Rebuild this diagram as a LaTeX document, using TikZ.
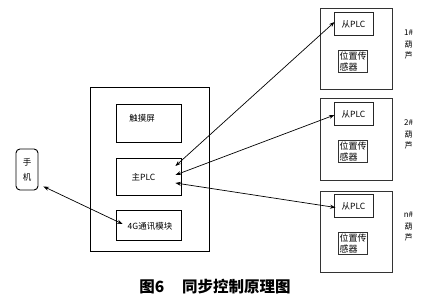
\documentclass[tikz,border=0pt]{standalone}
\usepackage{fontspec}
\setmainfont{Noto Sans CJK SC}
\usetikzlibrary{arrows.meta,calc}
\begin{document}
\begin{tikzpicture}[x=1pt,y=-1pt,
  box/.style={draw=black,line width=0.9pt,rectangle,inner sep=0pt,anchor=center,font=\fontsize{8.5}{10}\selectfont},
  grp/.style={draw=black!80,line width=1pt,rectangle,inner sep=0pt,anchor=center},
  sensor/.style={draw=black!80,line width=1pt,rectangle,inner sep=1pt,align=left,font=\fontsize{9}{11}\selectfont},
  lbl/.style={inner sep=0pt,align=center,font=\fontsize{8}{11.5}\selectfont},
  txt/.style={inner sep=0pt,font=\fontsize{8.5}{10}\selectfont},
  conn/.style={line width=0.7pt,{Stealth[length=5.5pt,width=4pt]}-{Stealth[length=5.5pt,width=4pt]}}
]
\useasboundingbox (0,0) rectangle (436,302);
% main cabinet
\node[grp,draw=black,line width=0.9pt,minimum width=119pt,minimum height=164pt] (main) at (149.5,169) {};
\node[box,minimum width=65pt,minimum height=38pt] (touch) at (148.5,123) {};
\node[txt] (toucht) at (142,118) {触摸屏};
\node[box,minimum width=65pt,minimum height=37pt] (mplc) at (148.5,176.5) {};
\node[txt] (mplct) at (143.5,177.5) {主PLC};
\node[box,minimum width=65pt,minimum height=30pt] (g4) at (148.5,225) {};
\node[txt] (g4t) at (150,226.5) {4G通讯模块};
% phone
\node[draw=black,line width=0.9pt,rounded corners=4pt,minimum width=22pt,minimum height=41pt,inner sep=0pt,align=center,font=\fontsize{8.5}{15}\selectfont] (phone) at (27,169.5) {手\\机};
% hoists
\foreach \n/\cy/\lab in {1/49.5/1\#, 2/139.5/2\#, n/231.5/n\#}{
  \node[grp,minimum width=72pt,minimum height=81pt] (h\n) at (356,\cy) {};
  \node[box,line width=1pt,draw=black!85,minimum width=39pt,minimum height=22.5pt] (s\n) at ($(h\n.center)+(-2.5,-25.5)$) {从PLC};
  \node[sensor] (p\n) at ($(h\n.center)+(-3,12)$) {位置传\\感器};
  \node[lbl] (l\n) at ($(h\n.center)+(52.5,-5)$) {\lab\\葫\\芦};
}
% connectors
\draw[conn] ($(mplc.east)+(-6,-10.5)$) -- ($(s1.west)+(1,-2)$);
\draw[conn] ($(mplc.east)+(-6,-1.5)$) -- ($(s2.west)+(1,1)$);
\draw[conn] ($(mplc.east)+(-6,6.5)$) -- ($(sn.west)+(2,1.5)$);
\draw[conn] ($(phone.south east)+(5,-4)$) -- ($(g4.west)+(7,-1)$);
% caption
\node[inner sep=0pt,font=\fontsize{15.5}{17}\selectfont\bfseries] (cap) at (215,287) {图6\hspace{18pt}同步控制原理图};
\end{tikzpicture}
\end{document}
